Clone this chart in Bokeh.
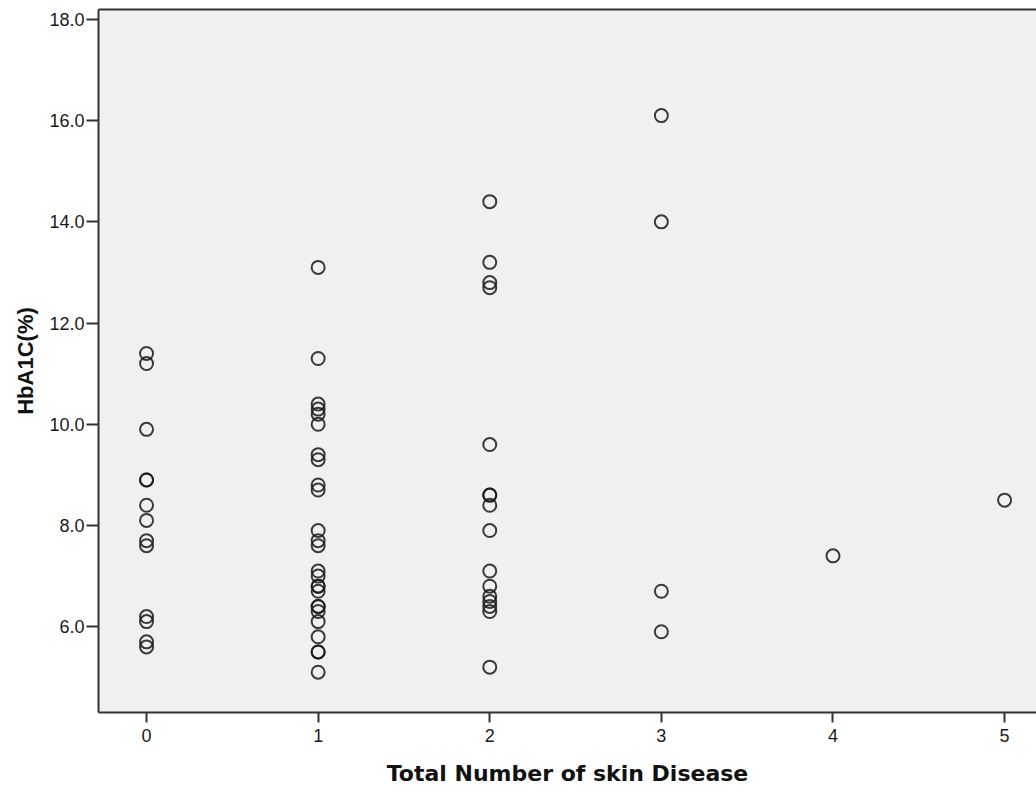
from bokeh.plotting import figure
from bokeh.models import Range1d, FixedTicker, PrintfTickFormatter, LinearAxis, ColumnDataSource
from bokeh.embed import file_html
from bokeh.resources import INLINE

# Data
x0 = [11.4, 11.2, 9.9, 8.9, 8.9, 8.4, 8.1, 7.7, 7.6, 6.2, 6.1, 5.7, 5.6]
x1 = [13.1, 11.3, 10.4, 10.3, 10.2, 10.0, 9.4, 9.3, 8.8, 8.7, 7.9, 7.7, 7.6,
      7.1, 7.0, 6.8, 6.8, 6.7, 6.4, 6.4, 6.3, 6.1, 5.8, 5.5, 5.5, 5.1]
x2 = [14.4, 13.2, 12.8, 12.7, 9.6, 8.6, 8.6, 8.4, 7.9, 7.1, 6.8, 6.6, 6.5, 6.4, 6.3, 5.2]
x3 = [16.1, 14.0, 6.7, 5.9]
x4 = [7.4]
x5 = [8.5]
groups = [x0, x1, x2, x3, x4, x5]

xs, ys = [], []
for k, g in enumerate(groups):
    xs += [k] * len(g)
    ys += g
src = ColumnDataSource(dict(x=xs, y=ys))

x_ticks = [0, 1, 2, 3, 4, 5]
y_ticks = [6, 8, 10, 12, 14, 16, 18]

p = figure(width=1036, height=788, output_backend="svg", toolbar_location=None,
           x_range=Range1d(-0.28, 5.186), y_range=Range1d(4.304, 18.197),
           min_border_left=98, min_border_right=0, min_border_top=9, min_border_bottom=75)
p.background_fill_color = "#f0f0f0"
p.border_fill_color = "white"
p.outline_line_color = None
p.grid.visible = False

p.scatter("x", "y", source=src, size=13, fill_color=None, line_color="#1a1a1a",
          line_alpha=0.85, line_width=2)

for ax in (p.xaxis[0], p.yaxis[0]):
    ax.axis_line_color = "#333333"
    ax.axis_line_width = 2
    ax.major_tick_line_color = "#333333"
    ax.major_tick_line_width = 2
    ax.major_tick_in = 0
    ax.minor_tick_line_color = None
    ax.major_label_text_font = "Liberation Sans"
    ax.major_label_text_font_size = "18px"
    ax.major_label_text_color = "#1a1a1a"

p.xaxis.major_tick_out = 10
p.yaxis.major_tick_out = 12
p.xaxis.ticker = FixedTicker(ticks=x_ticks)
p.yaxis.ticker = FixedTicker(ticks=y_ticks)
p.yaxis.formatter = PrintfTickFormatter(format="%.1f")
p.xaxis.major_label_standoff = 6
p.yaxis.major_label_standoff = 2

p.xaxis.axis_label = "Total Number of skin Disease"
p.xaxis.axis_label_text_font = "DejaVu Sans"
p.xaxis.axis_label_text_font_style = "bold"
p.xaxis.axis_label_text_font_size = "22px"
p.xaxis.axis_label_text_color = "#111111"
p.xaxis.axis_label_standoff = 16

p.yaxis.axis_label = "HbA1C(%)"
p.yaxis.axis_label_text_font = "Liberation Sans"
p.yaxis.axis_label_text_font_style = "bold"
p.yaxis.axis_label_text_font_size = "22px"
p.yaxis.axis_label_text_color = "#111111"
p.yaxis.axis_label_standoff = 8

top = LinearAxis(ticker=FixedTicker(ticks=[]), axis_line_color="#333333", axis_line_width=2,
                 major_tick_line_color=None, minor_tick_line_color=None,
                 major_label_standoff=0, major_tick_out=0, major_tick_in=0)
p.add_layout(top, "above")

open("out.html", "w").write(file_html(p, INLINE))
